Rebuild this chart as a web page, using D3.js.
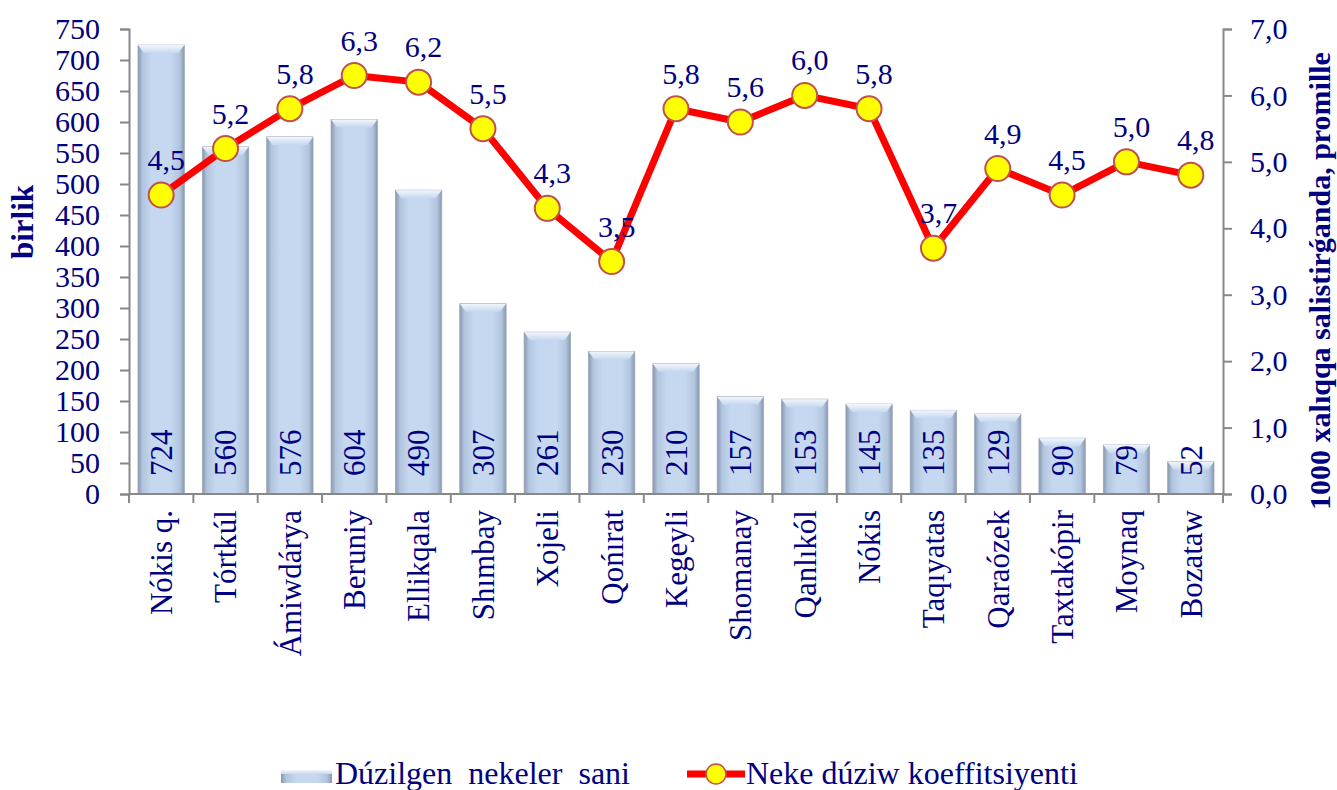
<!DOCTYPE html>
<html>
<head>
<meta charset="utf-8">
<script src="https://d3js.org/d3.v7.min.js"></script>
<style>
  body { margin: 0; background: #fff; }
  svg text { font-family: "Liberation Serif", "Times New Roman", serif; fill: #000080; }
</style>
</head>
<body>
<svg id="chart" width="1337" height="790"></svg>
<script>
var regions = ["Nókis q.", "Tórtkúl", "Ámiwdárya", "Beruniy", "Ellikqala", "Shımbay", "Xojeli", "Qońırat", "Kegeyli", "Shomanay", "Qanlıkól", "Nókis", "Taqıyatas", "Qaraózek", "Taxtakópir", "Moynaq", "Bozataw"];
var marriages = [724, 560, 576, 604, 490, 307, 261, 230, 210, 157, 153, 145, 135, 129, 90, 79, 52];
var coeff = [4.5, 5.2, 5.8, 6.3, 6.2, 5.5, 4.3, 3.5, 5.8, 5.6, 6.0, 5.8, 3.7, 4.9, 4.5, 5.0, 4.8];
var leftTicks = d3.range(0, 751, 50);
var rightTicks = [0, 1, 2, 3, 4, 5, 6, 7];

var svg = d3.select("#chart");
var mLeft = 129, mRight = 1223, mTop = 29, mBottom = 494;

var x = d3.scaleBand().domain(regions).range([mLeft, mRight]).paddingInner(0.28).paddingOuter(0.14);
var yL = d3.scaleLinear().domain([0, 750]).range([mBottom, mTop]);
var yR = d3.scaleLinear().domain([0, 7]).range([mBottom, mTop]);
var fmt = function(d) { return d3.format(".1f")(d).replace(".", ","); };

var defs = svg.append("defs");
var g1 = defs.append("linearGradient").attr("id", "barGrad").attr("x1", 0).attr("x2", 1).attr("y1", 0).attr("y2", 0);
[[0, "#8797ad"], [0.1, "#b2c5de"], [0.3, "#c5d8f0"], [0.7, "#c5d8f0"], [0.9, "#b2c5de"], [1, "#8797ad"]].forEach(function(s) {
  g1.append("stop").attr("offset", s[0]).attr("stop-color", s[1]);
});
var g2 = defs.append("linearGradient").attr("id", "capGrad").attr("x1", 0).attr("x2", 0).attr("y1", 0).attr("y2", 1);
[[0, "#f2f6fc"], [1, "#c5d8f0"]].forEach(function(s) {
  g2.append("stop").attr("offset", s[0]).attr("stop-color", s[1]);
});

// bars
var bars = svg.append("g");
bars.selectAll("rect.bar").data(regions).enter().append("rect")
  .attr("class", "bar")
  .attr("x", function(d) { return x(d); })
  .attr("y", function(d, i) { return yL(marriages[i]); })
  .attr("width", x.bandwidth())
  .attr("height", function(d, i) { return mBottom - yL(marriages[i]); })
  .attr("fill", "url(#barGrad)")
  .attr("stroke", "#9aa8b8").attr("stroke-width", 0.8);
bars.selectAll("path.cap").data(regions).enter().append("path")
  .attr("class", "cap")
  .attr("d", function(d, i) {
    var x0 = x(d), w = x.bandwidth(), y0 = yL(marriages[i]);
    return "M" + x0 + "," + y0 + "L" + (x0 + w) + "," + y0 + "L" + (x0 + w - 6) + "," + (y0 + 8) + "L" + (x0 + 6) + "," + (y0 + 8) + "Z";
  })
  .attr("fill", "url(#capGrad)");

bars.selectAll("text.val").data(regions).enter().append("text")
  .attr("class", "val")
  .attr("transform", function(d) { return "translate(" + (x(d) + x.bandwidth() / 2) + "," + (mBottom - 18) + ") rotate(-90)"; })
  .attr("dy", "0.35em")
  .attr("font-size", 31)
  .text(function(d, i) { return marriages[i]; });

// axes
var axisColor = "#888";
var aL = svg.append("g").attr("transform", "translate(" + mLeft + ",0)")
  .call(d3.axisLeft(yL).tickValues(leftTicks).tickSize(9).tickPadding(20));
var aR = svg.append("g").attr("transform", "translate(" + mRight + ",0)")
  .call(d3.axisRight(yR).tickValues(rightTicks).tickSize(9).tickPadding(18).tickFormat(fmt));
[aL, aR].forEach(function(a) {
  a.select(".domain").attr("stroke", axisColor).attr("stroke-width", 2);
  a.selectAll(".tick line").attr("stroke", axisColor).attr("stroke-width", 2);
  a.selectAll(".tick text").attr("font-size", 30).attr("font-family", "Liberation Serif").attr("fill", "#000080");
});

var aB = svg.append("g");
aB.append("line").attr("x1", mLeft).attr("x2", mRight).attr("y1", mBottom).attr("y2", mBottom).attr("stroke", axisColor).attr("stroke-width", 2);
aB.selectAll("line.tk").data(d3.range(regions.length + 1)).enter().append("line")
  .attr("class", "tk")
  .attr("x1", function(i) { return mLeft + i * (mRight - mLeft) / regions.length; })
  .attr("x2", function(i) { return mLeft + i * (mRight - mLeft) / regions.length; })
  .attr("y1", mBottom).attr("y2", mBottom + 9)
  .attr("stroke", axisColor).attr("stroke-width", 2);
aB.selectAll("text").data(regions).enter().append("text")
  .attr("transform", function(d) { return "translate(" + (x(d) + x.bandwidth() / 2) + "," + (mBottom + 16) + ") rotate(-90)"; })
  .attr("text-anchor", "end")
  .attr("dy", "0.35em")
  .attr("font-size", 31)
  .text(function(d) { return d; });

// line
var line = d3.line()
  .x(function(d, i) { return x(regions[i]) + x.bandwidth() / 2; })
  .y(function(d) { return yR(d); });
svg.append("path").datum(coeff)
  .attr("d", line).attr("fill", "none").attr("stroke", "#ff0000").attr("stroke-width", 7).attr("stroke-linejoin", "round");
svg.selectAll("circle.pt").data(coeff).enter().append("circle")
  .attr("class", "pt")
  .attr("cx", function(d, i) { return x(regions[i]) + x.bandwidth() / 2; })
  .attr("cy", function(d) { return yR(d); })
  .attr("r", 12.5)
  .attr("fill", "#ffff00").attr("stroke", "#c0504d").attr("stroke-width", 2);
svg.selectAll("text.pl").data(coeff).enter().append("text")
  .attr("class", "pl")
  .attr("x", function(d, i) { return x(regions[i]) + x.bandwidth() / 2 + 5; })
  .attr("y", function(d) { return yR(d) - 25; })
  .attr("text-anchor", "middle")
  .attr("font-size", 30)
  .text(fmt);

// axis titles
svg.append("text")
  .attr("transform", "translate(22,222) rotate(-90)")
  .attr("text-anchor", "middle").attr("dy", "0.35em")
  .attr("font-size", 31).attr("font-weight", "bold")
  .text("birlik");
svg.append("text")
  .attr("transform", "translate(1319,281) rotate(-90)")
  .attr("text-anchor", "middle").attr("dy", "0.35em")
  .attr("font-size", 30).attr("font-weight", "bold")
  .text("1000 xalıqqa salistirǵanda, promille");

// legend
var lg = svg.append("g");
lg.append("rect").attr("x", 281).attr("y", 770).attr("width", 51).attr("height", 13).attr("fill", "url(#barGrad)");
lg.append("rect").attr("x", 281).attr("y", 770).attr("width", 51).attr("height", 4).attr("fill", "url(#capGrad)");
lg.append("text").attr("x", 335).attr("y", 784).attr("font-size", 32).attr("xml:space", "preserve").text("Dúzilgen  nekeler  sani");
lg.append("line").attr("x1", 687).attr("x2", 745).attr("y1", 774).attr("y2", 774).attr("stroke", "#ff0000").attr("stroke-width", 7);
lg.append("circle").attr("cx", 716).attr("cy", 774).attr("r", 10).attr("fill", "#ffff00").attr("stroke", "#c0504d").attr("stroke-width", 1.5);
lg.append("text").attr("x", 746).attr("y", 784).attr("font-size", 32).text("Neke dúziw koeffitsiyenti");
</script>
</body>
</html>
